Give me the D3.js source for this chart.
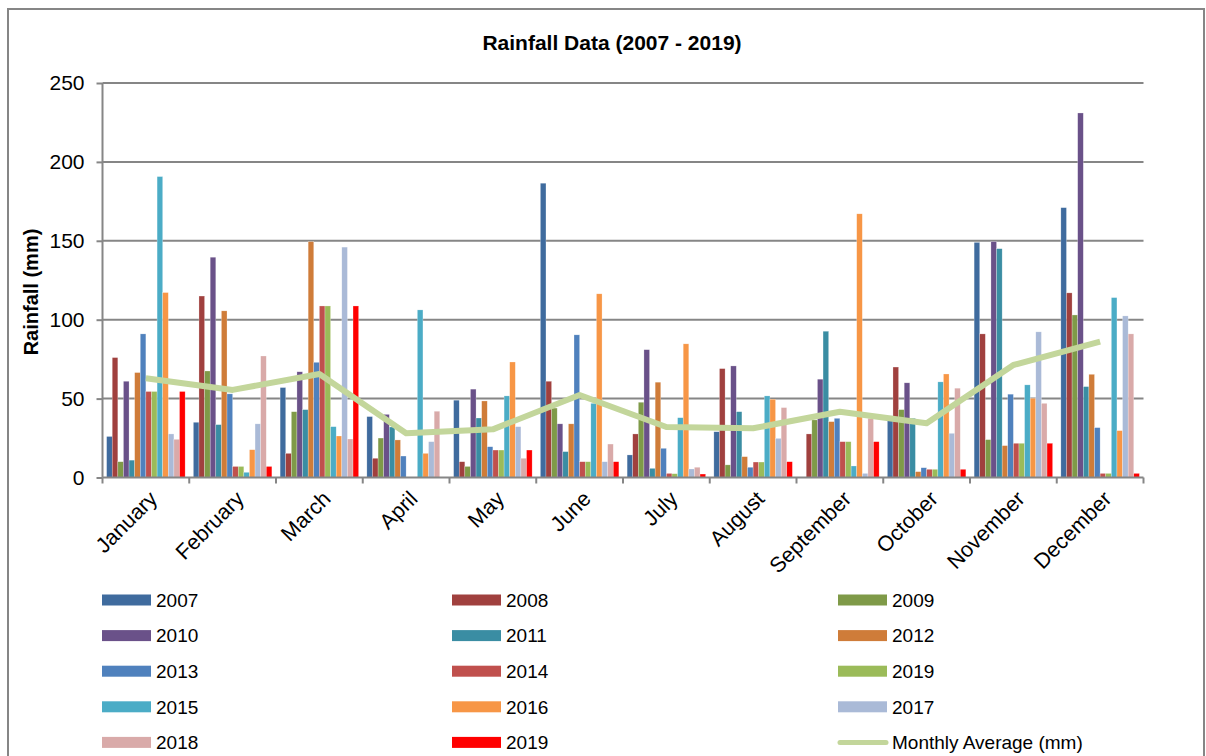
<!DOCTYPE html>
<html>
<head>
<meta charset="utf-8">
<script src="https://cdn.jsdelivr.net/npm/d3@7"></script>
<style>
    body { margin: 0; background: #fff; }
    svg { display: block; font-family: 'Liberation Sans', Arial, sans-serif; }
</style>
</head>
<body>
<svg id="chart" width="1206" height="756"></svg>
<script>
const months = ['January', 'February', 'March', 'April', 'May', 'June', 'July', 'August', 'September', 'October', 'November', 'December'];

const seriesLabels = ['2007', '2008', '2009', '2010', '2011', '2012', '2013', '2014', '2019', '2015', '2016', '2017', '2018', '2019'];
const seriesColors = ['#3F6B9E', '#A0403E', '#7F9A48', '#6A5189', '#3A8DA3', '#CF7C39', '#4F81BD', '#C0504D', '#9BBB59', '#4BACC6', '#F79646', '#AABAD7', '#D9AAA9', '#FF0000'];

const r2007 = [26, 35, 57, 38.6, 49, 186.5, 14.3, 29, 0, 39, 149, 171];
const r2008 = [76, 115, 15.3, 12.2, 10, 61, 27.6, 69, 27.6, 70, 91, 117];
const r2009 = [10, 67.5, 41.7, 25, 7, 44, 47.7, 8, 36.5, 43, 24, 103];
const r2010 = [61, 139.6, 67, 40, 56, 34, 81, 70.7, 62.3, 60, 149.5, 231];
const r2011 = [11, 33.5, 43, 32, 37.7, 16.4, 5.8, 41.7, 92.7, 37.5, 145, 57.6];
const r2012 = [66.5, 105.6, 149.5, 23.8, 48.5, 34, 60.4, 13.2, 35.4, 3.7, 20.2, 65.4];
const r2013 = [91, 53, 73, 13.6, 19.5, 90.4, 18.5, 6.5, 37.5, 6.2, 52.8, 31.6];
const r2014 = [54.5, 7, 108.7, 0, 17.4, 10, 2.6, 9.8, 22.7, 5.2, 21.7, 2.6];
const r2019a = [54.5, 7, 108.7, 0, 17.4, 10, 2.4, 9.8, 22.7, 5.2, 21.7, 2.6];
const r2015 = [190.7, 3.3, 32.2, 106.2, 51.7, 47, 37.9, 51.7, 7.3, 60.6, 58.7, 114];
const r2016 = [117.2, 17.6, 26.3, 15.3, 73.2, 116.4, 84.7, 49.6, 167.1, 65.6, 50.2, 29.7];
const r2017 = [27.6, 34, 146, 22.7, 32.2, 10, 5.4, 24.8, 2.6, 28, 92.3, 102.4];
const r2018 = [24.2, 77, 24.4, 42, 12.2, 21.2, 6.5, 44.3, 37.5, 56.6, 47, 91];
const r2019 = [54.5, 7, 108.7, 0, 17.4, 10, 2.2, 10, 22.7, 5.2, 21.7, 2.6];

const monthlyAverage = [62.9, 55.5, 65.6, 28, 30.5, 52.3, 32, 31.2, 41.7, 34.4, 71.3, 86.1];

const yTicks = [0, 50, 100, 150, 200, 250];

const seriesValues = [r2007, r2008, r2009, r2010, r2011, r2012, r2013, r2014, r2019a, r2015, r2016, r2017, r2018, r2019];

const series = seriesLabels.map((label, i) => ({
    label: label,
    color: seriesColors[i],
    values: seriesValues[i]
}));

const avgColor = '#C3D69B';
const gridColor = '#868686';

const margin = { top: 83, right: 62.5, bottom: 278.5, left: 102.5 };
const W = 1206, H = 756;
const w = W - margin.left - margin.right;
const h = H - margin.top - margin.bottom;

const svg = d3.select('#chart');

// outer frame
svg.append('rect')
    .attr('x', 8)
    .attr('y', 9)
    .attr('width', 1196)
    .attr('height', 770)
    .attr('fill', 'none')
    .attr('stroke', gridColor)
    .attr('stroke-width', 2);

svg.append('text')
    .attr('x', 612)
    .attr('y', 50)
    .attr('text-anchor', 'middle')
    .style('font-size', '21px')
    .style('font-weight', 'bold')
    .text('Rainfall Data (2007 - 2019)');

const g = svg.append('g')
    .attr('transform', 'translate(' + margin.left + ',' + margin.top + ')');

const x0 = d3.scaleBand()
    .domain(months)
    .range([0, w])
    .paddingInner(0.095)
    .paddingOuter(0.0475);

const x1 = d3.scaleBand()
    .domain(d3.range(series.length))
    .range([0, x0.bandwidth()]);

const yScale = d3.scaleLinear()
    .domain([0, 250])
    .range([h, 0]);

// gridlines
g.selectAll('.grid')
    .data(yTicks.filter(d => d > 0))
    .enter()
    .append('line')
    .attr('class', 'grid')
    .attr('x1', 0)
    .attr('x2', w)
    .attr('y1', d => yScale(d))
    .attr('y2', d => yScale(d))
    .attr('stroke', gridColor)
    .attr('stroke-width', 2);

const yAxis = d3.axisLeft(yScale)
    .tickValues(yTicks)
    .tickSize(6)
    .tickPadding(12);

const gY = g.append('g')
    .attr('class', 'axis y-axis')
    .call(yAxis);
gY.select('.domain').remove();
gY.selectAll('.tick line').attr('stroke', gridColor).attr('stroke-width', 2);
gY.selectAll('.tick text')
    .attr('fill', '#000')
    .style('font-size', '21px')
    .style('font-family', "'Liberation Sans', Arial, sans-serif");

g.append('line')
    .attr('x1', 0)
    .attr('x2', 0)
    .attr('y1', 0)
    .attr('y2', h)
    .attr('stroke', gridColor)
    .attr('stroke-width', 2);

// bars
const groups = g.selectAll('.month')
    .data(months)
    .enter()
    .append('g')
    .attr('class', 'month')
    .attr('transform', d => 'translate(' + x0(d) + ',0)');

groups.selectAll('rect')
    .data((m, mi) => series.map((s, si) => ({ si: si, value: s.values[mi], color: s.color })))
    .enter()
    .append('rect')
    .attr('x', d => x1(d.si))
    .attr('y', d => yScale(d.value))
    .attr('width', x1.bandwidth())
    .attr('height', d => h - yScale(d.value))
    .attr('fill', d => d.color)
    .attr('stroke', '#fff')
    .attr('stroke-opacity', 0.5)
    .attr('stroke-width', 0.5);

// x axis
g.append('line')
    .attr('x1', 0)
    .attr('x2', w)
    .attr('y1', h)
    .attr('y2', h)
    .attr('stroke', gridColor)
    .attr('stroke-width', 2);

const boundaries = months.map(m => x0(m) - x0.step() * x0.paddingInner() / 2);
boundaries.push(w);

g.selectAll('.xtick')
    .data(boundaries)
    .enter()
    .append('line')
    .attr('class', 'xtick')
    .attr('x1', d => d)
    .attr('x2', d => d)
    .attr('y1', h)
    .attr('y2', h + 6)
    .attr('stroke', gridColor)
    .attr('stroke-width', 2);

g.selectAll('.xlabel')
    .data(months)
    .enter()
    .append('text')
    .attr('class', 'xlabel')
    .attr('text-anchor', 'end')
    .attr('transform', d => 'translate(' + (x0(d) + x0.bandwidth() / 2 + 2) + ',' + (h + 12) + ') rotate(-45)')
    .attr('dy', '0.7em')
    .style('font-size', '21.5px')
    .text(d => d);

// monthly average line
const line = d3.line()
    .x((d, i) => x0(months[i]) + x0.bandwidth() / 2)
    .y(d => yScale(d));

g.append('path')
    .datum(monthlyAverage)
    .attr('d', line)
    .attr('fill', 'none')
    .attr('stroke', avgColor)
    .attr('stroke-width', 6)
    .attr('stroke-linejoin', 'round');

// y label
svg.append('text')
    .attr('transform', 'translate(38,292) rotate(-90)')
    .attr('text-anchor', 'middle')
    .style('font-size', '20px')
    .style('font-weight', 'bold')
    .text('Rainfall (mm)');

// legend
const legendItems = series.map(s => ({ label: s.label, color: s.color, type: 'bar' }));
legendItems.push({ label: 'Monthly Average (mm)', color: avgColor, type: 'line' });

const legendCols = [102, 452, 838];
const legendTop = 600;
const legendRow = 35.6;

const legend = svg.selectAll('.legend')
    .data(legendItems)
    .enter()
    .append('g')
    .attr('class', 'legend')
    .attr('transform', (d, i) => 'translate(' + legendCols[i % 3] + ',' + (legendTop + Math.floor(i / 3) * legendRow) + ')');

legend.filter(d => d.type === 'bar')
    .append('rect')
    .attr('x', 0)
    .attr('y', -5.5)
    .attr('width', 49)
    .attr('height', 11)
    .attr('fill', d => d.color);

legend.filter(d => d.type === 'line')
    .append('line')
    .attr('x1', 2)
    .attr('x2', 48)
    .attr('y1', 0)
    .attr('y2', 0)
    .attr('stroke', d => d.color)
    .attr('stroke-width', 5)
    .attr('stroke-linecap', 'round');

legend.append('text')
    .attr('x', 54)
    .attr('y', 0)
    .attr('dy', '0.36em')
    .style('font-size', '19px')
    .text(d => d.label);
</script>
</body>
</html>
